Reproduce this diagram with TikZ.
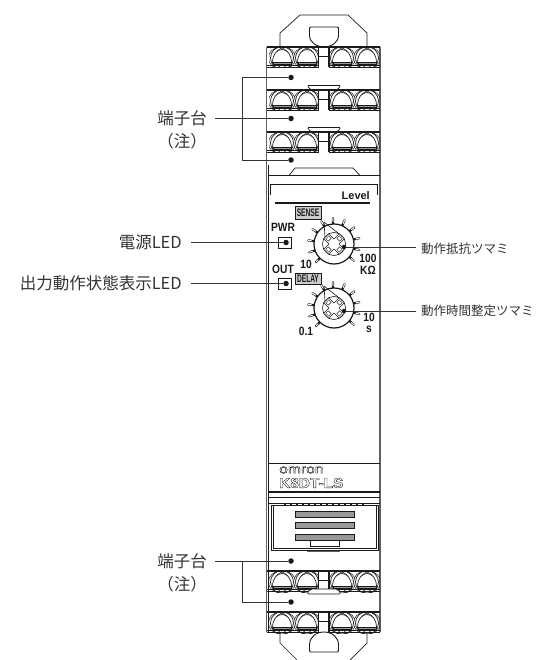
\documentclass[tikz,border=0pt]{standalone}
\usepackage{fontspec}
\setmainfont{Liberation Sans}
\newfontfamily\cjk{Noto Sans CJK JP}
\definecolor{ink}{HTML}{1A1A1A}
\definecolor{labelink}{HTML}{333333}
\definecolor{slat}{HTML}{999999}
\newcommand{\outlinetext}[1]{\special{pdf:code 1 Tr 0.35 w}#1\special{pdf:code 0 Tr 0 w}}
\tikzset{
  x=1pt,y=-1pt,
  dev/.style={draw=ink,line width=0.7pt},
  heavy/.style={draw=ink,line width=1.2pt},
  wall/.style={draw=ink!70,line width=1.6pt},
  leader/.style={draw=labelink,line width=0.8pt},
  dotmark/.style={circle,fill=ink,inner sep=0pt,minimum size=5.5pt},
  calloutbig/.style={font=\cjk\fontsize{16.5}{18}\selectfont,text=labelink,inner sep=0pt},
  calloutsmall/.style={font=\cjk\fontsize{12.5}{14}\selectfont,text=labelink,inner sep=0pt},
  panelbold/.style={font=\bfseries\fontsize{12}{12}\selectfont,text=ink,inner sep=0pt,xscale=0.85},
  tagtext/.style={font=\bfseries\fontsize{11}{12}\selectfont,text=ink,inner sep=0pt,xscale=0.6},
}
\newcommand{\screw}[2]{%
  \begin{scope}
    \clip (#1-13,#2) rectangle (#1+13,#2+21);
    \draw[dev,line width=0.5pt] (#1+3,#2+11) circle (10.5);
    \draw[dev,line width=0.5pt] (#1-3,#2+11) circle (10.5);
    \draw[dev] (#1,#2+11) circle (11.5);
    \draw[dev,fill=white] (#1-9.5,#2+16) .. controls (#1-9.5,#2+7) and (#1-5,#2+2.5) .. (#1,#2+2.5) .. controls (#1+5,#2+2.5) and (#1+9.5,#2+7) .. (#1+9.5,#2+16) -- cycle;
    \draw[dev,fill=slat] (#1-9,#2+15.5) rectangle (#1+9,#2+17.5);
  \end{scope}}
\newcommand{\termrow}[1]{%
  \screw{282}{#1}\screw{307}{#1}\screw{342}{#1}\screw{367}{#1}
  \fill[white] (318.5,#1) rectangle (329,#1+20);
  \draw[heavy] (267,#1) -- (380,#1);
  \draw[heavy] (267,#1+20.5) -- (318.5,#1+20.5);
  \draw[heavy] (329,#1+20.5) -- (380,#1+20.5);
  \draw[dev] (267,#1+18.5) -- (318.5,#1+18.5);
  \draw[dev] (329,#1+18.5) -- (380,#1+18.5);
  \draw[heavy] (318.5,#1) -- (318.5,#1+20.5);
  \draw[heavy] (329,#1) -- (329,#1+20.5);
  \draw[dev] (318.5,#1+9) -- (329,#1+9);}
\newcommand{\knobface}[2]{%
  \begin{scope}[shift={(#1,#2)}]
    \foreach \a in {225,198.5,172,145.5,119,92.5,66,39.5,13,-13.5,-40}{
      \draw[ink,line width=2.2pt,line cap=round] ({20*cos(\a)},{-20*sin(\a)}) -- ({26*cos(\a)},{-26*sin(\a)});
      \draw[white,line width=1pt,line cap=round] ({22.5*cos(\a)},{-22.5*sin(\a)}) -- ({26*cos(\a)},{-26*sin(\a)});
    }
    \draw[heavy,fill=white] (0,0) circle (20);
    \draw[dev,line width=0.6pt] (0,0) circle (11.5);
    \draw[dev,line width=0.6pt] (-10,-22) -- (-9,-7);
    \draw[dev,line width=0.6pt] (-10,-22) -- (4,-11);
    \begin{scope}[rotate=45]
      \draw[dev,line width=0.6pt,fill=white] (-3.5,-11) -- (3.5,-11) -- (3.5,-3.5) -- (11,-3.5) -- (11,3.5) -- (3.5,3.5) -- (3.5,11) -- (-3.5,11) -- (-3.5,3.5) -- (-11,3.5) -- (-11,-3.5) -- (-3.5,-3.5) -- cycle;
      \foreach \r in {0,90,180,270}{
        \draw[dev,line width=0.4pt,rotate=\r] (-2,-9.5) rectangle (2,-6);
      }
    \end{scope}
  \end{scope}}
\begin{document}
\begin{tikzpicture}
\useasboundingbox (0,0) rectangle (536,660);
\fill[white] (0,0) rectangle (536,660);
% top cap
\draw[dev] (280,47) -- (280,33) -- (300,15) -- (348,15) -- (367,33) -- (367,47);
\draw[dev,line width=0.9pt] (311,27) -- (337,27) .. controls (338.5,27) and (338.5,28) .. (338.5,29) -- (338.5,35) .. controls (338.5,43) and (331,47) .. (324,47) .. controls (317,47) and (309.5,43) .. (309.5,35) -- (309.5,29) .. controls (309.5,28) and (309.5,27) .. (311,27) -- cycle;
% walls
\draw[wall] (266.5,47) -- (266.5,515);
\draw[dev] (268.5,165) -- (268.5,632);
\draw[wall] (380,47) -- (380,632);
\draw[wall,line width=1pt] (266.5,515) -- (266.5,632);
% terminal rows, upper block
\draw[dev,fill=white,rounded corners=1.5pt] (307,85.5) -- (341,85.5) -- (337,90) -- (311,90) -- cycle;
\draw[dev,fill=white,rounded corners=1.5pt] (307,127.5) -- (341,127.5) -- (337,132) -- (311,132) -- cycle;
\termrow{47}\termrow{90}\termrow{132}
% top of front panel
\draw[dev] (289,175.5) -- (295,168) -- (353,168) -- (360,175.5);
\draw[dev] (268,175.5) -- (380,175.5);
\draw[dev] (270,195) -- (270,184) -- (377,184) -- (377,195);
\node[font=\bfseries\fontsize{11}{12}\selectfont,text=ink,inner sep=0pt,anchor=east] (levelt) at (370,196) {Level};
\draw[heavy] (275,203) -- (370,203);
% panel tags
\node[draw=ink,line width=0.5pt,fill=slat!50,minimum width=26pt,minimum height=13pt,inner sep=0pt] (sensebox) at (308,212.5) {};
\node[tagtext] (senset) at (308,212.5) {SENSE};
\node[draw=ink,line width=0.5pt,fill=slat!50,minimum width=26pt,minimum height=11pt,inner sep=0pt] (delaybox) at (308,278.5) {};
\node[tagtext] (delayt) at (308,278.5) {DELAY};
\node[panelbold] (pwrt) at (283,227) {PWR};
\node[panelbold] (outt) at (283,269.5) {OUT};
\node[draw=ink,line width=0.7pt,minimum width=13pt,minimum height=11pt,inner sep=0pt,fill=white] (pwrbox) at (285,242.5) {};
\node[draw=ink,line width=0.7pt,minimum width=13pt,minimum height=11pt,inner sep=0pt,fill=white] (outbox) at (285,283.5) {};
% knobs
\knobface{334}{244}
\knobface{334}{308}
\node[panelbold] (k10a) at (306,264) {10};
\node[panelbold] (k100) at (368,258) {100};
\node[panelbold] (kohm) at (368,270) {KΩ};
\node[panelbold] (k01) at (306,331) {0.1};
\node[panelbold] (k10b) at (369,317.5) {10};
\node[panelbold] (ks) at (369,329.5) {s};
% brand plate
\draw[dev] (268,463) -- (380,463);
\node[font=\fontsize{12.5}{13}\selectfont,text=ink,inner sep=0pt,anchor=west,xscale=1.25] (brand) at (279,470) {\outlinetext{omron}};
\node[font=\bfseries\fontsize{14}{15}\selectfont,text=ink,inner sep=0pt,anchor=west,xscale=1.1] (model) at (279,483) {\outlinetext{K8DT-LS}};
\draw[heavy] (268,492) -- (380,492);
\draw[dev] (268,497) -- (380,497);
\draw[dev] (268,503) -- (380,503);
\draw[ink,line width=0.8pt,dash pattern=on 2pt off 4pt] (284,504.5) -- (368,504.5);
% cover
\draw[dev] (271,505) rectangle (378,550);
\draw[dev] (273,505) -- (273,548) -- (376,548) -- (376,505);
\foreach \y in {511,522,534}{
  \draw[dev,fill=slat] (295,\y) rectangle (354,\y+6.5);
}
\draw[dev] (310,541) -- (310,546) -- (339,546) -- (339,541);
\draw[heavy,ink!70] (307,551.5) -- (340,551.5);
% lower terminal rows
\termrow{571}\termrow{612}
\draw[dev,fill=white,rounded corners=2pt] (307,594) -- (310,589) -- (338,589) -- (341,594) -- cycle;
% bottom cap
\draw[dev] (280,632) -- (280,643) -- (297,660);
\draw[dev] (367,632) -- (367,643) -- (350,660);
\draw[dev,line width=0.9pt] (324,632) .. controls (316,632) and (309.5,637) .. (309.5,645) -- (309.5,650) .. controls (309.5,651.5) and (310,652) .. (311,652) -- (337,652) .. controls (338,652) and (338.5,651.5) .. (338.5,650) -- (338.5,645) .. controls (338.5,637) and (332,632) .. (324,632) -- cycle;
% dots
\node[dotmark] (dtop1) at (291,77.5) {};
\node[dotmark] (dtop2) at (291,118.5) {};
\node[dotmark] (dtop3) at (291,160) {};
\node[dotmark] (dpwr) at (286,242.5) {};
\node[dotmark] (dout) at (286,283.5) {};
\node[dotmark,minimum size=4.5pt] (dsense) at (344,247) {};
\node[dotmark,minimum size=4.5pt] (ddelay) at (344,311) {};
\node[dotmark] (dbot1) at (291,561) {};
\node[dotmark] (dbot2) at (291,602) {};
% labels
\node[calloutbig,anchor=east] (ltop) at (207,118) {端子台};
\node[calloutbig,anchor=east] (ltopn) at (207,141) {（注）};
\node[calloutbig,anchor=east] (lpwr) at (182,242.5) {電源LED};
\node[calloutbig,anchor=east] (lout) at (182,283.5) {出力動作状態表示LED};
\node[calloutsmall,anchor=west] (lsense) at (421,249) {動作抵抗ツマミ};
\node[calloutsmall,anchor=west] (ldelay) at (421,311) {動作時間整定ツマミ};
\node[calloutbig,anchor=east] (lbot) at (207,561) {端子台};
\node[calloutbig,anchor=east] (lbotn) at (207,584) {（注）};
% junctions and free ends
\coordinate (jtop) at (215,118.5);
\coordinate (jbot) at (215,561);
\coordinate (jpwr) at (191,242.5);
\coordinate (jout) at (191,283.5);
\coordinate (jsense) at (416,247);
\coordinate (jdelay) at (416,311);
\coordinate (btop1) at (242,77.5);
\coordinate (btop3) at (242,160);
\coordinate (bbot1) at (242,561);
\coordinate (bbot2) at (242,602);
% leaders
\draw[leader] (jtop) -- (dtop2);
\draw[leader] (dtop1) -- (btop1) -- (btop3) -- (dtop3);
\draw[leader] (jbot) -- (dbot1);
\draw[leader] (bbot1) -- (bbot2) -- (dbot2);
\draw[leader] (jpwr) -- (dpwr);
\draw[leader] (jout) -- (dout);
\draw[leader] (dsense) -- (jsense);
\draw[leader] (ddelay) -- (jdelay);
\end{tikzpicture}
\end{document}
